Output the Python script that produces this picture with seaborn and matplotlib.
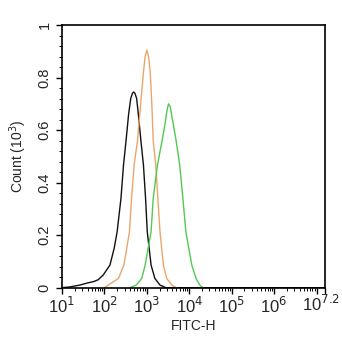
import numpy as np
import pandas as pd
import matplotlib
matplotlib.use("Agg")
import matplotlib.pyplot as plt
import matplotlib.transforms as mtransforms
import seaborn as sns
from matplotlib.ticker import LogLocator, MultipleLocator, NullFormatter

# log10(FITC-H) positions and counts (10^3)
black_log = [1.0, 1.19, 1.42, 1.6, 1.74, 1.85, 1.97, 2.13, 2.23, 2.30, 2.39, 2.45, 2.51, 2.57, 2.62,
             2.66, 2.69, 2.72, 2.76, 2.80, 2.86, 2.92, 2.97, 3.01, 3.10, 3.19, 3.31, 3.45, 7.2]
black_cnt = [0.0, 0.003, 0.01, 0.018, 0.023, 0.03, 0.048, 0.086, 0.15, 0.213, 0.34, 0.467, 0.56, 0.66, 0.72,
             0.74, 0.745, 0.74, 0.72, 0.66, 0.56, 0.467, 0.34, 0.213, 0.086, 0.035, 0.01, 0.0, 0.0]

orange_log = [2.0, 2.09, 2.33, 2.46, 2.59, 2.64, 2.70, 2.78, 2.85, 2.92, 2.96, 3.00, 3.04, 3.08, 3.12,
              3.15, 3.21, 3.26, 3.31, 3.39, 3.47, 3.59, 3.7]
orange_cnt = [0.0, 0.01, 0.035, 0.086, 0.213, 0.34, 0.467, 0.56, 0.69, 0.82, 0.88, 0.905, 0.88, 0.82, 0.69,
              0.56, 0.467, 0.34, 0.213, 0.086, 0.035, 0.01, 0.0]

green_log = [2.6, 2.75, 2.88, 2.96, 3.10, 3.15, 3.25, 3.36, 3.43, 3.47, 3.51, 3.55, 3.62, 3.69, 3.775,
             3.85, 3.92, 4.06, 4.16, 4.25, 4.32]
green_cnt = [0.0, 0.01, 0.035, 0.086, 0.213, 0.34, 0.467, 0.56, 0.625, 0.67, 0.70, 0.69, 0.625, 0.56, 0.467,
             0.34, 0.213, 0.086, 0.035, 0.01, 0.0]

x_tick_exp = [1, 2, 3, 4, 5, 6, 7, 7.2]
x_tick_labels = ["10$^{1}$", "10$^{2}$", "10$^{3}$", "10$^{4}$", "10$^{5}$", "10$^{6}$", "", ""]
x_end_label = "10$^{7.2}$"
y_ticks = [0, 0.2, 0.4, 0.6, 0.8, 1]
y_tick_labels = ["0", "0.2", "0.4", "0.6", "0.8", "1"]

sns.set_style("ticks")
plt.rcParams['font.family'] = ['Liberation Sans', 'DejaVu Sans']

fig = plt.figure(figsize=(3.42, 3.5), dpi=100)
ax = fig.add_axes([62/342, 1-287.7/350, (325-62)/342, (287.7-25)/350])

for lg, cnt, col in [(black_log, black_cnt, "#111111"),
                     (orange_log, orange_cnt, "#E9A66C"),
                     (green_log, green_cnt, "#52CA52")]:
    df = pd.DataFrame({"x": np.power(10.0, lg), "y": cnt})
    sns.lineplot(data=df, x="x", y="y", ax=ax, color=col, lw=1.0, sort=False, estimator=None)

ax.set_xscale("log")
ax.set_xlim(10, 10**7.2)
ax.set_ylim(0, 1)
ax.set_xticks([10.0**e for e in x_tick_exp])
ax.set_xticklabels(x_tick_labels, fontsize=12)
ax.xaxis.set_minor_locator(LogLocator(base=10, subs=np.arange(2, 10), numticks=20))
ax.xaxis.set_minor_formatter(NullFormatter())
ax.set_yticks(y_ticks)
ax.set_yticklabels(y_tick_labels, fontsize=10.5, rotation=90, va="center")
ax.yaxis.set_minor_locator(MultipleLocator(0.04))

# end label of the x axis, nudged left so it stays inside the figure
tr = mtransforms.blended_transform_factory(ax.transData, ax.transAxes) + \
    mtransforms.ScaledTranslation(-4/100, -6/100, fig.dpi_scale_trans)
ax.text(10**7.2, 0, x_end_label, transform=tr, ha="center", va="top", fontsize=12)

for s in ax.spines.values():
    s.set_linewidth(1.2)
    s.set_color("black")
ax.tick_params(axis="both", which="major", length=4, width=1, direction="out", color="black")
ax.tick_params(axis="both", which="minor", length=2, width=0.7, direction="out", color="black")
ax.tick_params(axis="x", pad=2)

ax.set_xlabel("FITC-H", fontsize=10, labelpad=2)
ax.set_ylabel("Count (10$^{3}$)", fontsize=10, labelpad=6)

fig.savefig("out.png", dpi=100)
